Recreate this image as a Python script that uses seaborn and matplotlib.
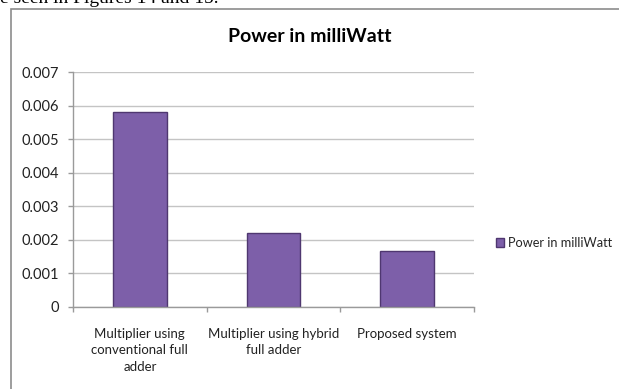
import matplotlib
matplotlib.use("Agg")
import matplotlib.pyplot as plt
import matplotlib.patches as mpatches
import seaborn as sns
import pandas as pd

categories = [
    "Multiplier using\nconventional full\nadder",
    "Multiplier using hybrid\nfull adder",
    "Proposed system",
]
power_mw = [0.0058, 0.0022, 0.00167]
series_name = "Power in milliWatt"
y_ticks = [0, 0.001, 0.002, 0.003, 0.004, 0.005, 0.006, 0.007]
y_tick_labels = ["0", "0.001", "0.002", "0.003", "0.004", "0.005", "0.006", "0.007"]

df = pd.DataFrame({"category": categories, "power": power_mw})

sns.set_theme(style="white")
plt.rcParams["font.family"] = ["Lato", "DejaVu Sans"]

W, H = 619, 389
fig = plt.figure(figsize=(W / 100, H / 100), dpi=100)
fig.patch.set_facecolor("white")

# surrounding document text and chart frame
fig.text(0 / W, 1 - 3 / H, "e seen in Figures 14 and 15.", family="Liberation Serif",
         fontsize=14, ha="left", va="baseline", color="black")
frame = mpatches.Rectangle((11 / W, -0.05), 1.0, 1 - 9 / H + 0.05, transform=fig.transFigure,
                           fill=False, edgecolor="#8c8c8c", linewidth=1.2)
fig.add_artist(frame)

ax = fig.add_axes([73 / W, (H - 307) / H, (474 - 73) / W, (307 - 72) / H])
bar_color = "#7d5fa9"
sns.barplot(data=df, x="category", y="power", color=bar_color, width=0.4,
            saturation=1, ax=ax, edgecolor="#4f3770", linewidth=1.0, legend=False)

ax.set_ylim(0, 0.007)
ax.set_xlim(-0.5, 2.5)
ax.set_yticks(y_ticks)
ax.set_yticklabels(y_tick_labels)
ax.set_xlabel("")
ax.set_ylabel("")
ax.yaxis.grid(True, color="#c4c4c4", linewidth=1.0)
ax.set_axisbelow(True)
for s in ["top", "right"]:
    ax.spines[s].set_visible(False)
for s in ["left", "bottom"]:
    ax.spines[s].set_color("#9a9a9a")
    ax.spines[s].set_linewidth(1.0)

ax.tick_params(axis="y", length=3.6, width=1, color="#9a9a9a", pad=6.5, labelsize=10.5,
               labelcolor="#222222", left=True)
ax.set_xticks([-0.5, 0.5, 1.5, 2.5], minor=True)
ax.tick_params(axis="x", which="minor", length=3.6, width=1, color="#9a9a9a", bottom=True)
ax.tick_params(axis="x", which="major", length=0, pad=15, labelsize=9.5, labelcolor="#222222")
for lbl in ax.get_xticklabels():
    lbl.set_ha("center")
    lbl.set_multialignment("center")
    lbl.set_linespacing(1.45)

fig.text(0.5, 1 - 37 / H, series_name, ha="center", va="center",
         fontsize=14, fontweight="bold", color="black")

handle = mpatches.Patch(facecolor=bar_color, edgecolor="#4f3770", label=series_name)
fig.legend(handles=[handle], loc="center left", bbox_to_anchor=(496 / W, 1 - 243 / H),
           frameon=False, fontsize=9.2, handlelength=0.6, handleheight=0.6,
           handletextpad=0.35, borderpad=0, borderaxespad=0)

fig.savefig("out.png", dpi=100)
